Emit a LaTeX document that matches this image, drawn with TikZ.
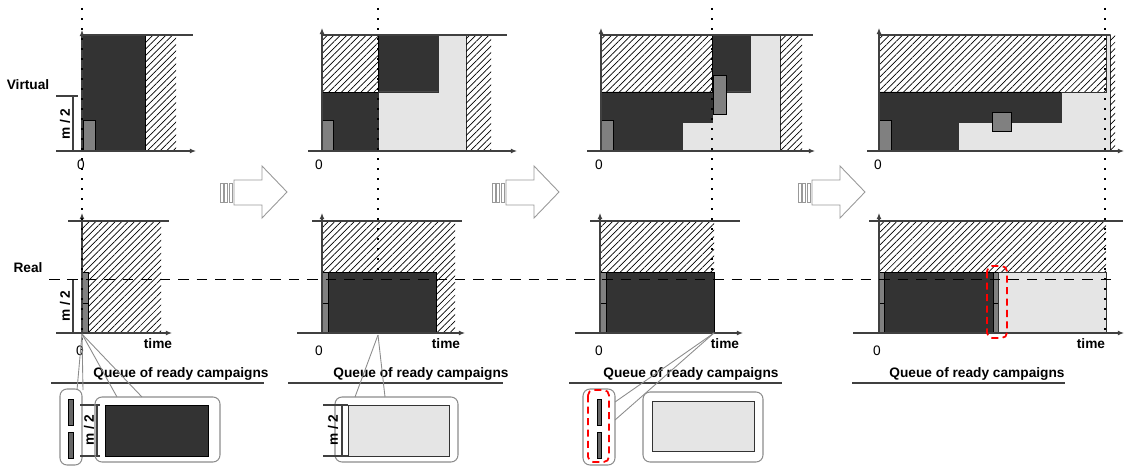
\documentclass[tikz,border=0pt]{standalone}
\usepackage{fontspec}
\setmainfont{Liberation Sans}
\usetikzlibrary{arrows.meta,patterns.meta}

\begin{document}
\begin{tikzpicture}[
    x=0.02cm, y=-0.02cm,
    lbl/.style={font=\fontsize{7.8}{9}\selectfont\bfseries, inner sep=0pt},
    num/.style={font=\fontsize{7.8}{9}\selectfont, inner sep=0pt},
    axis/.style={draw=black!75, line width=0.6pt, -{Latex[length=3.5pt,width=2.8pt]}},
    limit/.style={draw=black!75, line width=0.6pt},
    busy/.style={fill=black!80, draw=black, line width=0.4pt},
    idle/.style={fill=black!10, draw=black!80, line width=0.4pt},
    part/.style={fill=black!50, draw=black, line width=0.4pt},
    hatch/.style={pattern={Lines[angle=45,distance=2.6pt,line width=0.4pt]}},
    nowline/.style={draw=black, line width=1.1pt, dash pattern=on 1.1pt off 4.6pt},
    halfline/.style={draw=black, line width=0.5pt, dash pattern=on 6pt off 4.5pt},
    callout/.style={draw=black!45, line width=0.5pt},
    queuebox/.style={draw=black!45, line width=0.6pt, rounded corners=4pt},
    redbox/.style={draw=red, line width=1pt, dash pattern=on 4pt off 2.5pt, rounded corners=3pt},
    blockarrow/.style={draw=black!40, fill=white, line width=0.5pt}
]
\useasboundingbox (0,0) rectangle (1125,466);

% ---------- panel 1 ----------
\fill[busy] (82,35) rectangle (145,151);
\fill[hatch] (145,35) rectangle (176,151);
\filldraw[part] (83,120) rectangle (95,151);
\draw[limit] (82,35) -- (193,35);
\draw[axis] (56,151) -- (196,151);
\draw[axis] (82,151) -- (82,30);
\draw[limit] (56,96) -- (78,96);
\draw[limit] (73,96) -- (73,151);
\node[lbl, rotate=90] (halfA) at (65,124) {m / 2};
\node[lbl] (virtual) at (28,85) {Virtual};
\node[num] (zeroA) at (81,165) {0};

\fill[hatch] (82,221) rectangle (161,333);
\filldraw[part] (82,272) rectangle (88,303);
\filldraw[part] (82,303) rectangle (88,333);
\draw[limit] (68,221) -- (169,221);
\draw[axis] (56,333) -- (172,333);
\draw[axis] (82,333) -- (82,213);
\draw[limit] (73,279) -- (73,333);
\node[lbl, rotate=90] (halfB) at (65,306) {m / 2};
\node[lbl] (real) at (28,268) {Real};
\node[lbl] (timeA) at (158,344) {time};
\node[num] (zeroB) at (80,351) {0};
\draw[nowline] (82,8) -- (82,352);

% queue 1
\node[lbl] (queueA) at (181,374) {Queue of ready campaigns};
\draw[limit] (51,383) -- (264,383);
\draw[queuebox] (60,389) rectangle (82,465);
\filldraw[part, fill=black!60] (68,399) rectangle (73,425);
\filldraw[part, fill=black!60] (68,432) rectangle (73,458);
\draw[limit] (80,405) -- (100,405);
\draw[limit] (80,456) -- (100,456);
\draw[limit] (97,405) -- (97,456);
\node[lbl, rotate=90] (halfC) at (89,430) {m / 2};
\draw[queuebox] (95,397) rectangle (220,462);
\filldraw[busy] (105,405) rectangle (208,456);
\coordinate (originA) at (82,334);
\coordinate (tailA) at (77,390);
\coordinate (tailB) at (83,390);
\coordinate (tailC) at (117,397);
\coordinate (tailD) at (142,397);
\draw[callout] (originA) -- (tailA);
\draw[callout] (originA) -- (tailB);
\draw[callout] (originA) -- (tailC);
\draw[callout] (originA) -- (tailD);

% ---------- panel 2 ----------
\fill[hatch] (322,35) rectangle (378,92);
\filldraw[busy] (322,92) rectangle (378,151);
\filldraw[busy] (378,35) rectangle (438,92);
\filldraw[idle] (438,35) -- (466,35) -- (466,151) -- (378,151) -- (378,92) -- (438,92) -- cycle;
\fill[hatch] (466,35) rectangle (491,151);
\filldraw[part] (322,120) rectangle (333,151);
\draw[limit] (322,35) -- (507,35);
\draw[axis] (308,151) -- (517,151);
\draw[axis] (322,151) -- (322,28);
\node[num] (zeroC) at (319,165) {0};

\fill[hatch] (322,221) rectangle (455,333);
\filldraw[busy] (328,272) rectangle (436,333);
\filldraw[part] (322,272) rectangle (328,303);
\filldraw[part] (322,303) rectangle (328,333);
\draw[limit] (312,221) -- (462,221);
\draw[axis] (297,333) -- (465,333);
\draw[axis] (322,333) -- (322,213);
\node[lbl] (timeB) at (446,344) {time};
\node[num] (zeroD) at (319,351) {0};
\draw[nowline] (378,8) -- (378,272);

% queue 2
\node[lbl] (queueB) at (421,374) {Queue of ready campaigns};
\draw[limit] (288,383) -- (503,383);
\draw[queuebox] (335,397) rectangle (458,462);
\filldraw[idle] (348,405) rectangle (449,456);
\draw[limit] (323,405) -- (348,405);
\draw[limit] (323,456) -- (348,456);
\draw[limit] (342,405) -- (342,456);
\node[lbl, rotate=90] (halfD) at (333,430) {m / 2};
\coordinate (originB) at (378,335);
\coordinate (tailE) at (355,397);
\coordinate (tailF) at (385,397);
\draw[callout] (originB) -- (tailE);
\draw[callout] (originB) -- (tailF);

% ---------- panel 3 ----------
\fill[hatch] (601,35) rectangle (712,92);
\filldraw[busy] (601,92) -- (712,92) -- (712,35) -- (750,35) -- (750,92) -- (726,92) -- (726,113)
  -- (712,113) -- (712,122) -- (682,122) -- (682,151) -- (601,151) -- cycle;
\filldraw[idle] (750,35) -- (780,35) -- (780,151) -- (682,151) -- (682,122) -- (712,122)
  -- (712,113) -- (726,113) -- (726,92) -- (750,92) -- cycle;
\fill[hatch] (780,35) rectangle (802,151);
\filldraw[part] (601,120) rectangle (613,151);
\filldraw[part] (713,75) rectangle (726,114);
\draw[limit] (601,35) -- (813,35);
\draw[axis] (587,151) -- (815,151);
\draw[axis] (601,151) -- (601,28);
\node[num] (zeroE) at (599,165) {0};

\fill[hatch] (600,221) rectangle (714,272);
\filldraw[busy] (606,272) rectangle (714,333);
\filldraw[part] (600,272) rectangle (606,303);
\filldraw[part] (600,303) rectangle (606,333);
\draw[limit] (590,221) -- (740,221);
\draw[axis] (575,333) -- (743,333);
\draw[axis] (600,333) -- (600,213);
\node[lbl] (timeC) at (725,344) {time};
\node[num] (zeroF) at (599,351) {0};
\draw[nowline] (712,8) -- (712,272);

% queue 3
\node[lbl] (queueC) at (691,374) {Queue of ready campaigns};
\draw[limit] (569,383) -- (782,383);
\draw[queuebox] (583,389) rectangle (615,465);
\filldraw[part, fill=black!60] (597,399) rectangle (601,425);
\filldraw[part, fill=black!60] (597,432) rectangle (601,458);
\draw[redbox] (588,390) rectangle (609,462);
\draw[queuebox] (643,392) rectangle (763,462);
\filldraw[idle] (652,401) rectangle (754,451);
\coordinate (originC) at (714,333);
\coordinate (tailG) at (615,402);
\coordinate (tailH) at (615,420);
\draw[callout] (originC) -- (tailG);
\draw[callout] (originC) -- (tailH);

% ---------- panel 4 ----------
\fill[hatch] (879,35) rectangle (1106,92);
\filldraw[busy] (879,92) -- (1061,92) -- (1061,122) -- (958,122) -- (958,151) -- (879,151) -- cycle;
\filldraw[idle] (1106,35) -- (1110,35) -- (1110,151) -- (958,151) -- (958,122) -- (1061,122)
  -- (1061,92) -- (1106,92) -- cycle;
\fill[hatch] (1110,35) rectangle (1115,151);
\filldraw[part] (879,120) rectangle (891,151);
\filldraw[part] (992,112) rectangle (1011,131);
\draw[limit] (879,35) -- (1110,35);
\draw[axis] (867,151) -- (1124,151);
\draw[axis] (879,151) -- (879,28);
\node[num] (zeroG) at (878,165) {0};

\fill[hatch] (879,221) rectangle (1106,272);
\filldraw[part] (879,272) rectangle (884,303);
\filldraw[part] (879,303) rectangle (884,333);
\filldraw[busy] (884,272) rectangle (993,333);
\filldraw[part] (993,272) rectangle (998,303);
\filldraw[part] (993,303) rectangle (998,333);
\filldraw[idle] (998,272) rectangle (1106,333);
\draw[limit] (869,221) -- (1123,221);
\draw[axis] (853,333) -- (1124,333);
\draw[axis] (879,333) -- (879,213);
\node[lbl] (timeD) at (1091,344) {time};
\node[num] (zeroH) at (877,351) {0};
\draw[nowline] (1105,8) -- (1105,335);
\draw[redbox] (987,266) rectangle (1007,338);

% queue 4
\node[lbl] (queueD) at (977,374) {Queue of ready campaigns};
\draw[limit] (852,383) -- (1065,383);

% half capacity line
\draw[halfline] (49,279) -- (1115,279);

% ---------- block arrows ----------
\foreach \ax in {220,492,798} {
  \draw[blockarrow] (\ax,183) rectangle ++(3,19);
  \draw[blockarrow] (\ax+4.5,183) rectangle ++(3,19);
  \draw[blockarrow] (\ax+9,183) rectangle ++(3,19);
  \draw[blockarrow] (\ax+14,180) -- (\ax+42,180) -- (\ax+42,166) -- (\ax+67,192)
    -- (\ax+42,218) -- (\ax+42,205) -- (\ax+14,205) -- cycle;
}
\end{tikzpicture}
\end{document}
